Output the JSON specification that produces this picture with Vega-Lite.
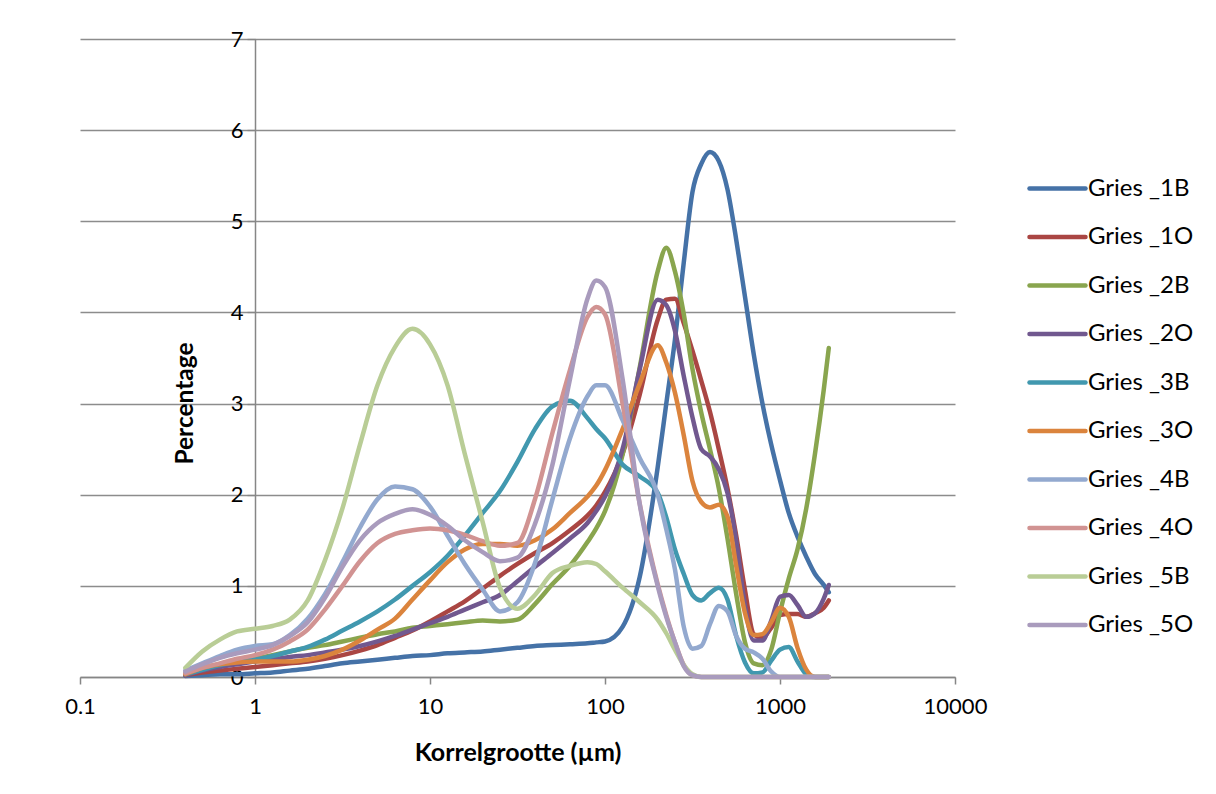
{
  "$schema": "https://vega.github.io/schema/vega-lite/v6.json",
  "width": 875,
  "height": 638,
  "autosize": {"type": "none"},
  "padding": {"left": 80, "top": 39, "right": 261, "bottom": 117},
  "background": "white",
  "config": {"view": {"stroke": null}, "font": "Lato"},
  "data": {"values": [
    {"x":0.4,"Gries _1B":0.01,"Gries _1O":0.02,"Gries _2B":0.04,"Gries _2O":0.02,"Gries _3B":0.03,"Gries _3O":0.03,"Gries _4B":0.07,"Gries _4O":0.04,"Gries _5B":0.10,"Gries _5O":0.06},
    {"x":0.5,"Gries _1B":0.02,"Gries _1O":0.05,"Gries _2B":0.09,"Gries _2O":0.07,"Gries _3B":0.08,"Gries _3O":0.10,"Gries _4B":0.15,"Gries _4O":0.10,"Gries _5B":0.28,"Gries _5O":0.14},
    {"x":0.63,"Gries _1B":0.03,"Gries _1O":0.07,"Gries _2B":0.13,"Gries _2O":0.11,"Gries _3B":0.13,"Gries _3O":0.14,"Gries _4B":0.23,"Gries _4O":0.15,"Gries _5B":0.41,"Gries _5O":0.21},
    {"x":0.79,"Gries _1B":0.03,"Gries _1O":0.09,"Gries _2B":0.16,"Gries _2O":0.14,"Gries _3B":0.17,"Gries _3O":0.16,"Gries _4B":0.30,"Gries _4O":0.20,"Gries _5B":0.50,"Gries _5O":0.26},
    {"x":1,"Gries _1B":0.04,"Gries _1O":0.11,"Gries _2B":0.20,"Gries _2O":0.17,"Gries _3B":0.19,"Gries _3O":0.17,"Gries _4B":0.34,"Gries _4O":0.24,"Gries _5B":0.53,"Gries _5O":0.30},
    {"x":1.26,"Gries _1B":0.05,"Gries _1O":0.13,"Gries _2B":0.24,"Gries _2O":0.19,"Gries _3B":0.23,"Gries _3O":0.17,"Gries _4B":0.36,"Gries _4O":0.30,"Gries _5B":0.56,"Gries _5O":0.35},
    {"x":1.58,"Gries _1B":0.07,"Gries _1O":0.15,"Gries _2B":0.28,"Gries _2O":0.22,"Gries _3B":0.28,"Gries _3O":0.17,"Gries _4B":0.46,"Gries _4O":0.39,"Gries _5B":0.63,"Gries _5O":0.45},
    {"x":2,"Gries _1B":0.09,"Gries _1O":0.17,"Gries _2B":0.32,"Gries _2O":0.24,"Gries _3B":0.33,"Gries _3O":0.19,"Gries _4B":0.64,"Gries _4O":0.52,"Gries _5B":0.84,"Gries _5O":0.60},
    {"x":2.51,"Gries _1B":0.12,"Gries _1O":0.20,"Gries _2B":0.35,"Gries _2O":0.27,"Gries _3B":0.41,"Gries _3O":0.23,"Gries _4B":0.91,"Gries _4O":0.74,"Gries _5B":1.28,"Gries _5O":0.87},
    {"x":3.16,"Gries _1B":0.15,"Gries _1O":0.24,"Gries _2B":0.39,"Gries _2O":0.30,"Gries _3B":0.51,"Gries _3O":0.30,"Gries _4B":1.26,"Gries _4O":1.00,"Gries _5B":1.85,"Gries _5O":1.21},
    {"x":3.98,"Gries _1B":0.17,"Gries _1O":0.29,"Gries _2B":0.43,"Gries _2O":0.34,"Gries _3B":0.61,"Gries _3O":0.40,"Gries _4B":1.64,"Gries _4O":1.27,"Gries _5B":2.55,"Gries _5O":1.50},
    {"x":5.01,"Gries _1B":0.19,"Gries _1O":0.35,"Gries _2B":0.47,"Gries _2O":0.39,"Gries _3B":0.72,"Gries _3O":0.52,"Gries _4B":1.95,"Gries _4O":1.47,"Gries _5B":3.20,"Gries _5O":1.69},
    {"x":6.31,"Gries _1B":0.21,"Gries _1O":0.43,"Gries _2B":0.50,"Gries _2O":0.45,"Gries _3B":0.85,"Gries _3O":0.64,"Gries _4B":2.09,"Gries _4O":1.57,"Gries _5B":3.62,"Gries _5O":1.79},
    {"x":7.94,"Gries _1B":0.23,"Gries _1O":0.51,"Gries _2B":0.54,"Gries _2O":0.52,"Gries _3B":1.00,"Gries _3O":0.85,"Gries _4B":2.06,"Gries _4O":1.61,"Gries _5B":3.82,"Gries _5O":1.84},
    {"x":10,"Gries _1B":0.24,"Gries _1O":0.61,"Gries _2B":0.56,"Gries _2O":0.59,"Gries _3B":1.15,"Gries _3O":1.06,"Gries _4B":1.87,"Gries _4O":1.63,"Gries _5B":3.65,"Gries _5O":1.78},
    {"x":12.6,"Gries _1B":0.26,"Gries _1O":0.72,"Gries _2B":0.58,"Gries _2O":0.66,"Gries _3B":1.33,"Gries _3O":1.26,"Gries _4B":1.55,"Gries _4O":1.61,"Gries _5B":3.20,"Gries _5O":1.66},
    {"x":15.8,"Gries _1B":0.27,"Gries _1O":0.83,"Gries _2B":0.60,"Gries _2O":0.74,"Gries _3B":1.55,"Gries _3O":1.40,"Gries _4B":1.24,"Gries _4O":1.56,"Gries _5B":2.45,"Gries _5O":1.50},
    {"x":20,"Gries _1B":0.28,"Gries _1O":0.97,"Gries _2B":0.62,"Gries _2O":0.82,"Gries _3B":1.80,"Gries _3O":1.46,"Gries _4B":0.96,"Gries _4O":1.49,"Gries _5B":1.70,"Gries _5O":1.37},
    {"x":25.1,"Gries _1B":0.30,"Gries _1O":1.11,"Gries _2B":0.61,"Gries _2O":0.90,"Gries _3B":2.04,"Gries _3O":1.46,"Gries _4B":0.72,"Gries _4O":1.44,"Gries _5B":0.98,"Gries _5O":1.27},
    {"x":31.6,"Gries _1B":0.32,"Gries _1O":1.24,"Gries _2B":0.63,"Gries _2O":1.05,"Gries _3B":2.36,"Gries _3O":1.44,"Gries _4B":0.82,"Gries _4O":1.47,"Gries _5B":0.75,"Gries _5O":1.31},
    {"x":39.8,"Gries _1B":0.34,"Gries _1O":1.36,"Gries _2B":0.80,"Gries _2O":1.21,"Gries _3B":2.72,"Gries _3O":1.50,"Gries _4B":1.25,"Gries _4O":1.95,"Gries _5B":0.90,"Gries _5O":1.68},
    {"x":50.1,"Gries _1B":0.35,"Gries _1O":1.47,"Gries _2B":1.02,"Gries _2O":1.36,"Gries _3B":2.97,"Gries _3O":1.62,"Gries _4B":1.95,"Gries _4O":2.68,"Gries _5B":1.14,"Gries _5O":2.33},
    {"x":63.1,"Gries _1B":0.36,"Gries _1O":1.61,"Gries _2B":1.22,"Gries _2O":1.52,"Gries _3B":3.03,"Gries _3O":1.80,"Gries _4B":2.62,"Gries _4O":3.37,"Gries _5B":1.22,"Gries _5O":3.27},
    {"x":79.4,"Gries _1B":0.37,"Gries _1O":1.77,"Gries _2B":1.48,"Gries _2O":1.69,"Gries _3B":2.84,"Gries _3O":1.98,"Gries _4B":3.08,"Gries _4O":3.95,"Gries _5B":1.26,"Gries _5O":4.15},
    {"x":89.1,"Gries _1B":0.38,"Gries _1O":1.88,"Gries _2B":1.63,"Gries _2O":1.82,"Gries _3B":2.72,"Gries _3O":2.10,"Gries _4B":3.20,"Gries _4O":4.06,"Gries _5B":1.24,"Gries _5O":4.35},
    {"x":100,"Gries _1B":0.39,"Gries _1O":2.03,"Gries _2B":1.82,"Gries _2O":1.98,"Gries _3B":2.62,"Gries _3O":2.27,"Gries _4B":3.20,"Gries _4O":3.98,"Gries _5B":1.16,"Gries _5O":4.28},
    {"x":126,"Gries _1B":0.55,"Gries _1O":2.45,"Gries _2B":2.44,"Gries _2O":2.50,"Gries _3B":2.33,"Gries _3O":2.72,"Gries _4B":2.82,"Gries _4O":3.00,"Gries _5B":0.98,"Gries _5O":3.27},
    {"x":158,"Gries _1B":1.10,"Gries _1O":3.10,"Gries _2B":3.40,"Gries _2O":3.38,"Gries _3B":2.20,"Gries _3O":3.22,"Gries _4B":2.40,"Gries _4O":1.90,"Gries _5B":0.82,"Gries _5O":1.89},
    {"x":200,"Gries _1B":2.30,"Gries _1O":3.92,"Gries _2B":4.45,"Gries _2O":4.14,"Gries _3B":2.02,"Gries _3O":3.64,"Gries _4B":2.00,"Gries _4O":1.02,"Gries _5B":0.63,"Gries _5O":1.00},
    {"x":224,"Gries _1B":3.00,"Gries _1O":4.14,"Gries _2B":4.71,"Gries _2O":4.08,"Gries _3B":1.75,"Gries _3O":3.45,"Gries _4B":1.62,"Gries _4O":0.68,"Gries _5B":0.48,"Gries _5O":0.66},
    {"x":251,"Gries _1B":3.70,"Gries _1O":4.15,"Gries _2B":4.45,"Gries _2O":3.80,"Gries _3B":1.40,"Gries _3O":3.12,"Gries _4B":1.18,"Gries _4O":0.38,"Gries _5B":0.30,"Gries _5O":0.38},
    {"x":282,"Gries _1B":4.55,"Gries _1O":3.88,"Gries _2B":3.98,"Gries _2O":3.30,"Gries _3B":1.13,"Gries _3O":2.65,"Gries _4B":0.55,"Gries _4O":0.13,"Gries _5B":0.13,"Gries _5O":0.12},
    {"x":316,"Gries _1B":5.32,"Gries _1O":3.58,"Gries _2B":3.38,"Gries _2O":2.85,"Gries _3B":0.90,"Gries _3O":2.15,"Gries _4B":0.31,"Gries _4O":0.02,"Gries _5B":0.03,"Gries _5O":0.02},
    {"x":355,"Gries _1B":5.63,"Gries _1O":3.25,"Gries _2B":2.90,"Gries _2O":2.50,"Gries _3B":0.84,"Gries _3O":1.92,"Gries _4B":0.34,"Gries _4O":0,"Gries _5B":0,"Gries _5O":0},
    {"x":398,"Gries _1B":5.76,"Gries _1O":2.91,"Gries _2B":2.50,"Gries _2O":2.42,"Gries _3B":0.92,"Gries _3O":1.86,"Gries _4B":0.58,"Gries _4O":0,"Gries _5B":0,"Gries _5O":0},
    {"x":447,"Gries _1B":5.66,"Gries _1O":2.50,"Gries _2B":2.07,"Gries _2O":2.28,"Gries _3B":0.98,"Gries _3O":1.89,"Gries _4B":0.78,"Gries _4O":0,"Gries _5B":0,"Gries _5O":0},
    {"x":501,"Gries _1B":5.35,"Gries _1O":2.07,"Gries _2B":1.52,"Gries _2O":2.02,"Gries _3B":0.85,"Gries _3O":1.76,"Gries _4B":0.72,"Gries _4O":0,"Gries _5B":0,"Gries _5O":0},
    {"x":562,"Gries _1B":4.80,"Gries _1O":1.55,"Gries _2B":0.91,"Gries _2O":1.50,"Gries _3B":0.45,"Gries _3O":1.22,"Gries _4B":0.45,"Gries _4O":0,"Gries _5B":0,"Gries _5O":0},
    {"x":631,"Gries _1B":4.17,"Gries _1O":0.95,"Gries _2B":0.38,"Gries _2O":0.78,"Gries _3B":0.16,"Gries _3O":0.70,"Gries _4B":0.31,"Gries _4O":0,"Gries _5B":0,"Gries _5O":0},
    {"x":708,"Gries _1B":3.54,"Gries _1O":0.47,"Gries _2B":0.15,"Gries _2O":0.40,"Gries _3B":0.04,"Gries _3O":0.46,"Gries _4B":0.27,"Gries _4O":0,"Gries _5B":0,"Gries _5O":0},
    {"x":794,"Gries _1B":3.00,"Gries _1O":0.43,"Gries _2B":0.13,"Gries _2O":0.40,"Gries _3B":0.05,"Gries _3O":0.47,"Gries _4B":0.20,"Gries _4O":0,"Gries _5B":0,"Gries _5O":0},
    {"x":891,"Gries _1B":2.55,"Gries _1O":0.54,"Gries _2B":0.30,"Gries _2O":0.62,"Gries _3B":0.18,"Gries _3O":0.60,"Gries _4B":0.06,"Gries _4O":0,"Gries _5B":0,"Gries _5O":0},
    {"x":1000,"Gries _1B":2.16,"Gries _1O":0.68,"Gries _2B":0.71,"Gries _2O":0.88,"Gries _3B":0.30,"Gries _3O":0.76,"Gries _4B":0,"Gries _4O":0,"Gries _5B":0,"Gries _5O":0},
    {"x":1122,"Gries _1B":1.80,"Gries _1O":0.69,"Gries _2B":1.08,"Gries _2O":0.90,"Gries _3B":0.33,"Gries _3O":0.66,"Gries _4B":0,"Gries _4O":0,"Gries _5B":0,"Gries _5O":0},
    {"x":1259,"Gries _1B":1.54,"Gries _1O":0.69,"Gries _2B":1.40,"Gries _2O":0.79,"Gries _3B":0.17,"Gries _3O":0.32,"Gries _4B":0,"Gries _4O":0,"Gries _5B":0,"Gries _5O":0},
    {"x":1413,"Gries _1B":1.32,"Gries _1O":0.66,"Gries _2B":1.85,"Gries _2O":0.66,"Gries _3B":0.03,"Gries _3O":0.08,"Gries _4B":0,"Gries _4O":0,"Gries _5B":0,"Gries _5O":0},
    {"x":1585,"Gries _1B":1.13,"Gries _1O":0.70,"Gries _2B":2.45,"Gries _2O":0.70,"Gries _3B":0,"Gries _3O":0,"Gries _4B":0,"Gries _4O":0,"Gries _5B":0,"Gries _5O":0},
    {"x":1778,"Gries _1B":1.01,"Gries _1O":0.76,"Gries _2B":3.15,"Gries _2O":0.86,"Gries _3B":0,"Gries _3O":0,"Gries _4B":0,"Gries _4O":0,"Gries _5B":0,"Gries _5O":0},
    {"x":1900,"Gries _1B":0.93,"Gries _1O":0.84,"Gries _2B":3.61,"Gries _2O":1.01,"Gries _3B":0,"Gries _3O":0,"Gries _4B":0,"Gries _4O":0,"Gries _5B":0,"Gries _5O":0}
  ]},
  "transform": [
    {"fold": ["Gries _1B","Gries _1O","Gries _2B","Gries _2O","Gries _3B","Gries _3O","Gries _4B","Gries _4O","Gries _5B","Gries _5O"], "as": ["s","y"]}
  ],
  "mark": {"type": "line", "strokeWidth": 4.5, "interpolate": "monotone", "strokeCap": "round", "strokeJoin": "round"},
  "encoding": {
    "x": {
      "field": "x", "type": "quantitative",
      "scale": {"type": "log", "domain": [0.1, 10000], "nice": false},
      "axis": {
        "values": [0.1, 1, 10, 100, 1000, 10000], "format": "~g", "grid": false,
        "domainColor": "#868686", "domainWidth": 1.5, "tickColor": "#868686", "tickSize": 7, "tickWidth": 1.5,
        "labelFontSize": 22, "labelColor": "black", "labelPadding": 12, "labelFlush": false,
        "title": "Korrelgrootte (µm)", "titleFontSize": 25, "titleFontWeight": "bold", "titleColor": "black", "titlePadding": 23
      }
    },
    "y": {
      "field": "y", "type": "quantitative",
      "scale": {"domain": [0, 7], "nice": false},
      "axis": {
        "values": [0,1,2,3,4,5,6,7], "offset": -175, "grid": true, "gridColor": "#8c8c8c", "gridWidth": 1.3,
        "domainColor": "#868686", "domainWidth": 1.5, "tickColor": "#868686", "tickSize": 8, "tickWidth": 1.3,
        "labelFontSize": 22, "labelColor": "black", "labelPadding": 4,
        "title": "Percentage", "titleFontSize": 24.5, "titleFontWeight": "bold", "titleColor": "black",
        "titleX": -70, "titleY": 364, "titleAngle": 270, "titleAlign": "center", "titleBaseline": "middle"
      }
    },
    "color": {
      "field": "s", "type": "nominal",
      "scale": {
        "domain": ["Gries _1B","Gries _1O","Gries _2B","Gries _2O","Gries _3B","Gries _3O","Gries _4B","Gries _4O","Gries _5B","Gries _5O"],
        "range": ["#4572A7","#AA4643","#89A54E","#71588F","#4198AF","#DB843D","#93A9CF","#D19392","#B9CD96","#A99BBD"]
      },
      "legend": {
        "orient": "none", "legendX": 947, "legendY": 119, "title": null, "padding": 0,
        "symbolType": "stroke", "symbolStrokeWidth": 4.5, "symbolSize": 3136,
        "labelFontSize": 24, "labelColor": "black", "labelOffset": 0, "rowPadding": 5.5,
        "encode": {"symbols": {"update": {"strokeCap": {"value": "round"}}}}
      }
    }
  }
}
